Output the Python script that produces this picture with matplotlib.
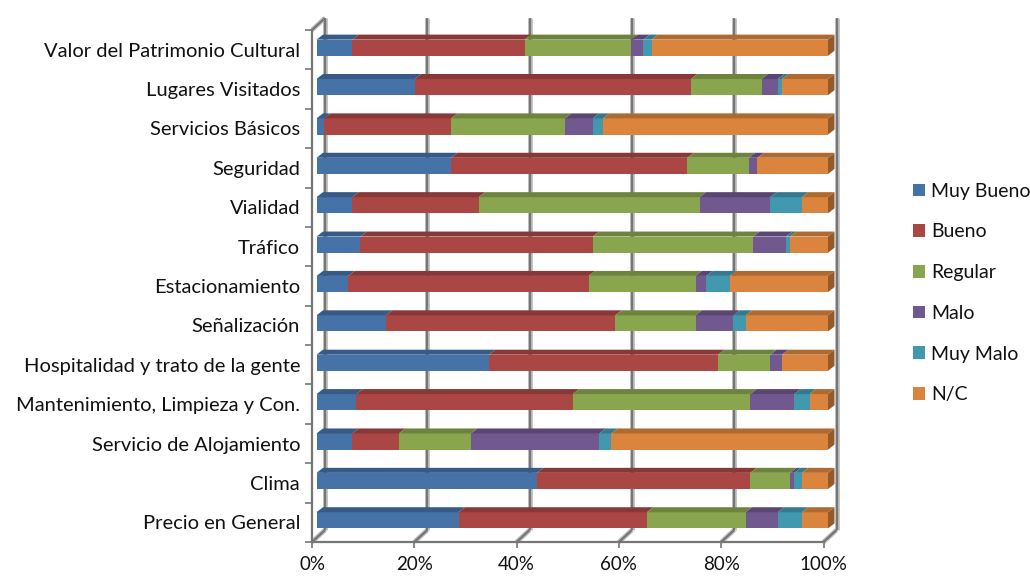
import matplotlib
matplotlib.use("Agg")
import matplotlib.pyplot as plt
from matplotlib.patches import Polygon, Patch
from matplotlib import transforms
from matplotlib.colors import to_rgb
import numpy as np

plt.rcParams["font.family"] = ["Lato", "DejaVu Sans"]

# ---- data (percent of responses per aspect) ----
categories = [
    "Valor del Patrimonio Cultural",
    "Lugares Visitados",
    "Servicios Básicos",
    "Seguridad",
    "Vialidad",
    "Tráfico",
    "Estacionamiento",
    "Señalización",
    "Hospitalidad y trato de la gente",
    "Mantenimiento, Limpieza y Con.",
    "Servicio de Alojamiento",
    "Clima",
    "Precio en General",
]
muy_bueno = [7.0, 19.2, 1.5, 26.3, 7.0, 8.6, 6.2, 13.6, 33.7, 7.8, 7.0, 43.1, 27.8]
bueno = [33.7, 54.0, 24.8, 46.2, 24.7, 45.4, 47.0, 44.8, 44.8, 42.3, 9.1, 41.7, 36.8]
regular = [20.8, 13.8, 22.3, 12.0, 43.2, 31.4, 20.9, 15.7, 10.2, 34.7, 14.1, 7.8, 19.3]
malo = [2.4, 3.2, 5.4, 1.7, 13.8, 6.4, 2.1, 7.4, 2.3, 8.6, 25.1, 0.8, 6.3]
muy_malo = [1.6, 0.8, 2.0, 0.0, 6.2, 0.8, 4.6, 2.4, 0.0, 3.0, 2.3, 1.5, 4.7]
no_contesta = [34.5, 9.0, 44.0, 13.8, 5.1, 7.4, 19.2, 16.1, 9.0, 3.6, 42.4, 5.1, 5.1]

series_names = ["Muy Bueno", "Bueno", "Regular", "Malo", "Muy Malo", "N/C"]
series_values = [muy_bueno, bueno, regular, malo, muy_malo, no_contesta]
series_colors = ["#4572A7", "#AA4643", "#89A54E", "#71588F", "#4198AF", "#DB843D"]
xtick_values = [0, 20, 40, 60, 80, 100]
xtick_labels = ["0%", "20%", "40%", "60%", "80%", "100%"]

# ---- figure / axes geometry ----
W, H, DPI = 1030, 576, 100
fig = plt.figure(figsize=(W / DPI, H / DPI), dpi=DPI)
ax_left, ax_right, ax_top, ax_bottom = 312, 823.5, 30, 542
ax = fig.add_axes([ax_left / W, 1 - ax_bottom / H,
                   (ax_right - ax_left) / W, (ax_bottom - ax_top) / H])
n = len(categories)
ax.set_xlim(0, 100)
ax.set_ylim(n - 0.5, -0.5)

px_x = (ax_right - ax_left) / 100.0          # pixels per percent
px_y = (ax_bottom - ax_top) / n              # pixels per category

FS_CAT = 14.5
FS_TICK = 13.5
FS_LEG = 14
GRID_CORE = "#767676"
GRID_HALO = "#bdbdbd"

# oblique depth of the chart box (back wall) and of the bars
box_dx, box_dy = 13 / px_x, -12 / px_y
bar_dx, bar_dy = 6.5 / px_x, -5 / px_y
bar_shift = transforms.ScaledTranslation(4.5 / DPI, 2 / DPI, fig.dpi_scale_trans)
bar_tr = ax.transData + bar_shift
wall_shift = transforms.ScaledTranslation(13 / DPI, 12 / DPI, fig.dpi_scale_trans)
wall_tr = ax.transData + wall_shift


def shade(color, f):
    r, g, b = to_rgb(color)
    return (r * f, g * f, b * f)


def gray_line(xs, ys, transform, z=0.5):
    ax.plot(xs, ys, color=GRID_HALO, lw=3.4, transform=transform,
            clip_on=False, zorder=z, solid_capstyle="butt")
    ax.plot(xs, ys, color=GRID_CORE, lw=1.6, transform=transform,
            clip_on=False, zorder=z + 0.01, solid_capstyle="butt")


# back wall gridlines
for v in xtick_values:
    gray_line([v, v], [n - 0.5, -0.5], wall_tr)
# floor diagonals joining the front axis to the back wall
for v in xtick_values:
    gray_line([v, v + box_dx], [n - 0.5, n - 0.5 + box_dy], ax.transData)
# top edge of the side wall
gray_line([0, box_dx], [-0.5, -0.5 + box_dy], ax.transData)

# ---- stacked 3D-looking bars ----
vals = np.array(series_values, dtype=float)
vals = vals / vals.sum(axis=0) * 100.0
y = np.arange(n)
bar_h = 0.41
left = np.zeros(n)
for name, v, c in zip(series_names, vals, series_colors):
    ax.barh(y, v, left=left, height=bar_h, color=c, linewidth=0,
            transform=bar_tr, zorder=2, clip_on=False)
    for i in range(n):
        if v[i] <= 0:
            continue
        l, r = left[i], left[i] + v[i]
        yt = y[i] - bar_h / 2
        top = Polygon([(l, yt), (r, yt), (r + bar_dx, yt + bar_dy),
                       (l + bar_dx, yt + bar_dy)], closed=True,
                      facecolor=shade(c, 0.80), edgecolor="none",
                      transform=bar_tr, clip_on=False, zorder=2)
        ax.add_patch(top)
    left = left + v

# right end faces of each bar
for i in range(n):
    last = [k for k in range(len(series_names)) if vals[k, i] > 0][-1]
    c = series_colors[last]
    yt, yb = y[i] - bar_h / 2, y[i] + bar_h / 2
    side = Polygon([(100, yt), (100 + bar_dx, yt + bar_dy),
                    (100 + bar_dx, yb + bar_dy), (100, yb)], closed=True,
                   facecolor=shade(c, 0.68), edgecolor="none",
                   transform=bar_tr, clip_on=False, zorder=2)
    ax.add_patch(side)

# ---- axes styling ----
for s in ["top", "right"]:
    ax.spines[s].set_visible(False)
for s in ["left", "bottom"]:
    ax.spines[s].set_color(GRID_CORE)
    ax.spines[s].set_linewidth(1.6)
    ax.spines[s].set_zorder(3)

ax.set_yticks(y)
ax.set_yticklabels(categories, fontsize=FS_CAT, color="#111111")
ax.set_yticks(np.arange(n + 1) - 0.5, minor=True)
ax.tick_params(axis="y", which="major", length=0, pad=8.6)
ax.tick_params(axis="y", which="minor", length=5, width=1.2, color=GRID_CORE)

ax.set_xticks(xtick_values)
ax.set_xticklabels(xtick_labels, fontsize=FS_TICK, color="#111111")
ax.tick_params(axis="x", which="major", length=4.5, width=1.2,
               color=GRID_CORE, pad=5.5)
ax.patch.set_visible(False)

# ---- legend ----
handles = [Patch(facecolor=c, edgecolor="none") for c in series_colors]
leg = fig.legend(handles, series_names, loc="center left",
                 bbox_to_anchor=(913 / W, 1 - 293 / H), frameon=False,
                 fontsize=FS_LEG, handlelength=0.62, handleheight=0.62,
                 handletextpad=0.3, labelspacing=1.22, borderpad=0,
                 borderaxespad=0)
for t in leg.get_texts():
    t.set_color("#111111")

fig.savefig("out.png", dpi=DPI)
